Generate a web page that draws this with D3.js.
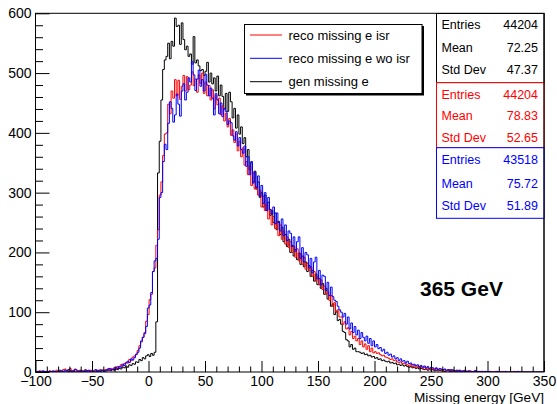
<!DOCTYPE html>
<html><head><meta charset="utf-8">
<script src="https://cdn.jsdelivr.net/npm/d3@7"></script>
<style>
body{margin:0;background:#fff}
svg{display:block}
text{font-family:"Liberation Sans",Arial,Helvetica,sans-serif}
</style>
</head><body>
<svg id="c" width="557" height="404"></svg>
<script>
// Binning: 300 bins of 1.5 GeV from -100 to 350 GeV
const binLow = -100, binWidth = 1.5;

const genMissing = [
0,0,0,1,0,0,0,0,1,0, 0,0,0,0,1,0,0,0,0,1, 0,0,1,0,0,1,0,0,0,1, 0,1,0,0,1,0,1,0,1,2,
1,2,2,3,2,4,3,5,4,6, 5,8,7,10,8,12,11,14,13,17, 16,21,19,24,22,27,29,26,31,28,
33,84,333,386,455,506,522,528,550,524, 553,545,592,578,580,548,584,556,539,545,
528,532,515,561,517,522,512,504,506,496, 503,518,485,500,482,492,470,495,462,480,
461,440,466,436,468,452,425,441,408,430, 398,410,382,392,360,372,338,350,318,336,
306,318,292,300,276,296,270,284,262,270, 250,266,238,252,230,242,218,230,210,222,
200,212,194,205,188,199,180,194,176,184, 168,178,160,170,152,164,146,156,140,148,
130,140,122,128,110,114,96,102,86,88, 80,68,66,54,52,42,46,38,40,34,
34,33,31,32,29,30,27,28,25,26, 23,24,21,22,19,20,18,17,18,15,
16,14,15,12,13,11,12,10,11,9, 8,9,7,8,6,7,5,6,5,4,
5,3,4,3,4,2,3,2,3,2, 2,1,2,2,1,1,2,1,1,0,
1,1,0,1,0,0,1,0,0,1, 0,0,0,0,0,0,0,0,0,0,
0,0,0,0,0,0,0,0,0,0, 0,0,0,0,0,0,0,0,0,0,
0,0,0,0,0,0,0,0,0,0, 0,0,0,0,0,0,0,0,0,0,
0,0,0,0,0,0,0,0,0,0, 0,0,0,0,0,0,0,0,0,0
];

const recoIsr = [
1,0,2,1,0,1,1,0,2,1, 0,1,3,1,2,0,4,5,2,3, 6,2,3,5,1,2,3,1,2,4, 2,1,3,2,1,2,3,2,4,3,
2,4,5,3,6,4,7,5,9,8, 12,10,14,16,15,21,19,25,27,30, 36,44,50,58,66,85,96,121,130,168,
174,212,238,296,318,362,398,400,448,432, 470,458,489,462,488,456,478,496,470,494,
472,480,502,479,490,468,497,483,500,466, 485,462,479,455,472,440,463,447,458,430,
445,420,433,410,424,396,405,384,398,370, 386,360,375,346,352,330,345,312,334,306,
310,296,304,276,294,270,280,256,272,246, 260,240,252,228,246,222,236,214,226,208,
218,200,210,192,206,186,198,180,192,172, 182,170,176,160,168,152,160,146,154,138,
144,130,134,120,128,110,116,100,104,92, 92,80,84,72,74,62,68,56,60,52,
56,46,52,42,47,38,44,34,40,32, 34,31,32,29,27,28,25,24,23,21,
22,19,20,17,16,17,14,15,13,12, 10,13,9,11,8,10,7,9,6,8,
5,7,4,6,5,4,6,3,5,4, 3,4,2,3,4,2,3,1,2,3,
2,1,2,3,1,1,2,0,1,2, 1,0,1,1,0,1,0,0,1,0,
0,1,0,0,0,1,0,0,0,0, 0,0,1,0,0,0,0,0,0,0,
0,0,0,0,0,0,0,0,0,0, 0,0,0,0,0,0,0,0,0,0,
0,0,0,0,0,0,0,0,0,0, 0,0,0,0,0,0,0,0,0,0
];

const recoWoIsr = [
0,1,1,0,2,1,0,1,1,0, 2,1,0,1,3,2,1,3,2,4, 3,1,2,4,3,1,2,2,1,3, 2,3,1,2,2,4,2,3,2,3,
3,2,4,6,3,5,4,8,6,9, 8,13,11,15,18,16,22,20,24,29, 33,40,52,58,64,76,107,112,133,168,
186,190,222,292,300,352,381,372,416,452, 441,418,430,465,448,428,470,482,455,468,
492,485,519,497,471,490,505,478,489,470, 498,480,462,475,458,430,466,455,432,450,
427,441,436,414,420,417,395,388,402,378, 392,372,366,378,344,360,330,352,316,334,
308,328,294,312,282,300,270,292,272,264, 276,248,266,250,236,256,228,246,220,236,
232,210,226,202,218,226,190,208,184,200, 196,174,190,166,184,192,156,170,146,162,
160,136,150,128,142,126,120,118,110,104, 100,92,98,80,92,72,82,66,76,62,
70,56,66,58,52,60,48,56,44,52, 42,46,39,41,35,38,31,33,28,30,
25,27,22,24,19,22,18,19,15,18, 14,15,12,13,11,12,9,11,8,10,
7,9,6,8,7,5,7,4,6,5, 4,5,3,4,2,4,3,2,3,2,
3,1,2,2,1,2,1,0,1,2, 1,1,0,1,0,1,0,1,0,0,
0,0,1,0,0,0,0,1,0,0, 0,0,0,0,1,0,0,0,0,0,
0,0,0,0,0,0,0,0,0,0, 0,0,0,0,0,0,0,0,0,0,
0,0,0,0,0,0,0,0,0,0, 0,0,0,0,0,0,0,0,0,0
];

const xMajorTicks = [-100,-50,0,50,100,150,200,250,300,350];
const yMajorTicks = [0,100,200,300,400,500,600];
const xTitle = "Missing energy [GeV]";
const energyLabel = "365 GeV";
const legendLabels = ["reco missing e isr","reco missing e wo isr","gen missing e"];
const statNames = ["Entries","Mean","Std Dev"];
const statsGen = ["44204","72.25","47.37"];
const statsIsr = ["44204","78.83","52.65"];
const statsWoIsr = ["43518","75.72","51.89"];

const svg = d3.select("#c");
const L = 35.5, R = 544, T = 13.3, B = 372;
const x = d3.scaleLinear().domain([-100,350]).range([L,R]);
const y = d3.scaleLinear().domain([0,600]).range([B,T]);

svg.append("rect").attr("width",557).attr("height",404).attr("fill","#fff");

svg.append("defs").append("clipPath").attr("id","frameClip")
  .append("rect").attr("x",L).attr("y",T).attr("width",R-L).attr("height",B-T);

// histograms as step lines
function histPoints(arr){
  const pts = arr.map((v,i)=>({e:binLow+i*binWidth, v}));
  pts.push({e:binLow+arr.length*binWidth, v:arr[arr.length-1]});
  return pts;
}
const step = d3.line().x(d=>x(d.e)).y(d=>y(d.v)).curve(d3.curveStepAfter);
const hg = svg.append("g").attr("clip-path","url(#frameClip)");
[[genMissing,"#000"],[recoIsr,"#ff0000"],[recoWoIsr,"#0000ff"]].forEach(([arr,col])=>{
  hg.append("path").attr("d",step(histPoints(arr)))
    .attr("fill","none").attr("stroke",col).attr("stroke-width",1);
});

// axes (ticks pointing into the frame)
const xMinor = d3.range(-100,351,10).filter(v=>v%50!==0);
const yMinor = d3.range(0,601,20).filter(v=>v%100!==0);
const gx = svg.append("g").attr("transform",`translate(0,${B})`);
gx.call(d3.axisBottom(x).tickValues(xMinor).tickSizeInner(-5.5).tickSizeOuter(0).tickFormat(""));
gx.append("g").call(d3.axisBottom(x).tickValues(xMajorTicks).tickSizeInner(-11).tickSizeOuter(0).tickPadding(3.6)
  .tickFormat(d=>d<0?"\u2212"+Math.abs(d):String(d)));
gx.selectAll(".domain").remove();
gx.selectAll("text").attr("font-size",14).attr("fill","#000").attr("font-family","Liberation Sans, Arial, sans-serif");
gx.selectAll("line").attr("stroke","#000");

const gy = svg.append("g").attr("transform",`translate(${L},0)`);
gy.call(d3.axisLeft(y).tickValues(yMinor).tickSizeInner(-7.5).tickSizeOuter(0).tickFormat(""));
gy.append("g").call(d3.axisLeft(y).tickValues(yMajorTicks).tickSizeInner(-14).tickSizeOuter(0).tickPadding(4));
gy.selectAll(".domain").remove();
gy.selectAll("text").attr("font-size",14).attr("fill","#000").attr("font-family","Liberation Sans, Arial, sans-serif");
gy.selectAll("line").attr("stroke","#000");

// frame
svg.append("rect").attr("x",L).attr("y",T).attr("width",R-L).attr("height",B-T)
  .attr("fill","none").attr("stroke","#000").attr("stroke-width",1);

// axis title
svg.append("text").attr("x",R).attr("y",401.5).attr("text-anchor","end")
  .attr("font-size",13.6).text(xTitle);

// energy label
svg.append("text").attr("x",420).attr("y",296).attr("font-size",21)
  .attr("font-weight","bold").text(energyLabel);

// legend
const lg = svg.append("g");
lg.append("rect").attr("x",246).attr("y",26).attr("width",178).attr("height",69.5).attr("fill","#000");
lg.append("rect").attr("x",244.5).attr("y",24.5).attr("width",177.5).attr("height",69)
  .attr("fill","#fff").attr("stroke","#000").attr("stroke-width",1);
const legendColors = ["#ff0000","#0000ff","#000"];
const legendRows = [35,58.3,81.7];
legendLabels.forEach((lab,i)=>{
  lg.append("line").attr("x1",250).attr("x2",282).attr("y1",legendRows[i]).attr("y2",legendRows[i])
    .attr("stroke",legendColors[i]).attr("stroke-width",1);
  lg.append("text").attr("x",288.5).attr("y",legendRows[i]+4.5).attr("font-size",13).text(lab);
});

// statistics boxes
const statBoxes = [
  {vals:statsGen, col:"#000", y0:13.5, h:69.2, rows:[28.6,52,74.3]},
  {vals:statsIsr, col:"#ff0000", y0:82.7, h:65, rows:[98.6,120.3,141.6]},
  {vals:statsWoIsr, col:"#0000ff", y0:147.7, h:70.6, rows:[164.3,187.6,210]}
];
statBoxes.forEach(b=>{
  svg.append("rect").attr("x",436.5).attr("y",b.y0).attr("width",107.5).attr("height",b.h)
    .attr("fill","#fff").attr("stroke",b.col).attr("stroke-width",1);
  statNames.forEach((n,i)=>{
    svg.append("text").attr("x",441.5).attr("y",b.rows[i]).attr("font-size",12.5).attr("fill",b.col).text(n);
    svg.append("text").attr("x",538).attr("y",b.rows[i]).attr("font-size",12.5).attr("fill",b.col)
      .attr("text-anchor","end").text(b.vals[i]);
  });
});
// frame right edge stays visible below the statistics boxes
svg.append("line").attr("x1",R).attr("x2",R).attr("y1",T).attr("y2",B).attr("stroke","#000");
</script>
</body></html>
